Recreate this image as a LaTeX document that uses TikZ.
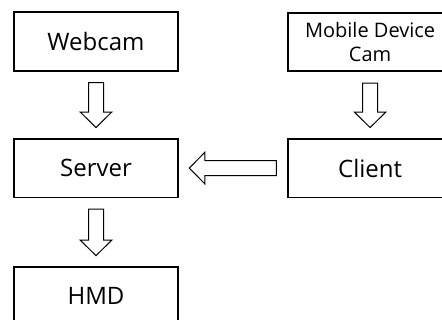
\documentclass[tikz,border=0pt]{standalone}
\usepackage{fontspec}
\setmainfont{Open Sans}
\usetikzlibrary{positioning,calc}
\tikzset{
  stagebox/.style={draw, line width=1.6pt, minimum width=164pt, minimum height=58.5pt,
    inner sep=0pt, align=center, font=\fontsize{24}{28}\selectfont},
  flowarrow/.style={draw, line width=1pt, fill=white, line join=miter}
}
\newcommand{\hollowarrow}[2]{%
  \coordinate (ha) at ($(#1)!11pt!(#2)$);
  \coordinate (hb) at ($(#2)!10.5pt!(#1)$);
  \coordinate (hc) at ($(hb)!15.5pt!(ha)$);
  \draw[flowarrow] ($(ha)!7.5pt!90:(hb)$) -- ($(hc)!7.5pt!90:(hb)$) -- ($(hc)!15.75pt!90:(hb)$)
    -- (hb) -- ($(hc)!15.75pt!-90:(hb)$) -- ($(hc)!7.5pt!-90:(hb)$) -- ($(ha)!7.5pt!-90:(hb)$) -- cycle;}

\begin{document}
\begin{tikzpicture}[x=1pt, y=-1pt]
\useasboundingbox (0,0) rectangle (442,320);
\node[stagebox] (web) at (96,41.5) {Webcam};
\node[stagebox, below=66.5pt of web] (srv) {Server};
\node[stagebox, below=68pt of srv] (hmd) {HMD};
\node[stagebox, right=108.5pt of srv] (cli) {Client};
\node[stagebox, above=66pt of cli, font=\fontsize{20}{23.5}\selectfont] (mob) {Mobile Device\\Cam};
% data flow
\hollowarrow{web.south}{srv.north}
\hollowarrow{mob.south}{cli.north}
\hollowarrow{cli.west}{srv.east}
\hollowarrow{srv.south}{hmd.north}
\end{tikzpicture}
\end{document}
